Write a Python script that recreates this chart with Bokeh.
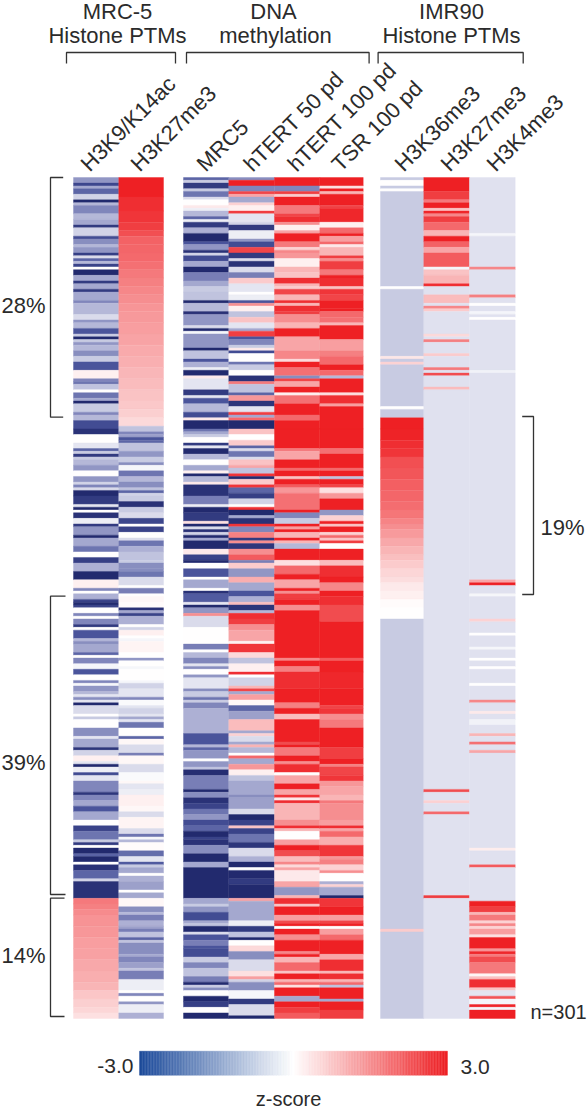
from bokeh.plotting import figure
from bokeh.embed import file_html
from bokeh.resources import INLINE
from bokeh.models import Range1d, ColumnDataSource, LinearColorMapper
from bokeh.core.properties import value
import numpy as np

N_ROWS = 301

# (z-score, number of rows) runs, top to bottom
H3K9K14ac = [(-1.2,2),(-2.3,1),(-1,1),(-1.8,2),(-.5,2),(-3,1),(-.8,1),(-1.4,3),(-.8,2),(-1,2),(-2.6,1),(-.5,3),(-2.2,1),(-1.3,2),(-.8,1),(-1.2,2),(-2.5,1),(-.4,1),(-1.8,1),(-.8,1),(-2.4,1),(0,1),(-3,2),(-1,2),(-2.6,1),(-1,2),(-2.6,1),(-1,3),
 (-1.4,1),(-.8,4),(-.4,2),(-1.2,1),(-.8,2),(-2,2),(-.6,1),(-3,1),(-.6,1),(-1.2,1),(-.8,2),(-1.3,2),(-.6,2),(-2,3),(.2,3),(-1.4,1),(-1.6,1),(-.7,2),(0,1),(-1.6,2),(-1,1),(-3,1),(-.6,3),(-1.4,1),(-.8,2),(-2.2,3),
 (-2.8,2),(0,3),(-.3,2),(-1.8,1),(-.6,1),(-2.6,1),(-.6,1),(-.8,2),(-1.2,2),(0,2),(-1.2,2),(-.5,1),(-1.4,1),(-.4,1),(-3,2),(-2.6,3),(-.3,1),(-3,1),(0,1),(-2.8,2),(-.2,2),(-2.6,1),(-1.2,3),(-3,1),(-1,3),(-1.6,2),(0,2),(-2.5,2),
 (-.9,3),(-3,3),(.2,3),(-1.4,1),(0,1),(-.9,2),(-2.4,1),(-3,1),(-2.4,1),(0,2),(-1.4,1),(0,1),(-1.4,2),(-2.6,1),(0,1),(-2,3),(-.8,1),(-1.3,1),(-1,3),(-1.8,1),(0,1),(-1.4,2),(-.1,2),(-2,2),(0,2),(-1.4,1),(-.1,1),(-1.2,2),
 (-.8,1),(-.3,1),(-1.3,1),(-.3,1),(-3,1),(-.4,3),(0,1),(-.6,1),(0,3),(-1.3,3),(-.3,1),(-1,3),(-2.7,1),(-.5,2),(.2,2),(-.3,1),(-3,1),(-.2,2),(-2.2,1),(-.3,2),(-1.4,4),(-2.7,1),(-1.4,2),(-1,2),(-2,2),(-1,3),
 (0,2),(-2.4,2),(-1.6,3),(-.6,1),(-2.6,1),(0,1),(-3,2),(-1.8,1),(-3,2),(0,1),(-2.8,2),(-1.8,3),(-.5,1),(-2.8,6),
 (1.8,2),(1.7,2),(1.55,2),(1.45,4),(1.4,4),(1.3,4),(1.25,4),(1.15,4),(1.1,4),(1,3),(.75,3),(.65,3),(.55,2),(.42,2)]

H3K27me3_MRC5 = [(3,7),(2.8,5),(2.7,4),(2.6,3),(2.35,2),(2.1,3),(2.05,3),(2,3),(1.9,3),(1.8,3),(1.7,3),(1.6,3),(1.5,3),(1.42,3),(1.36,4),(1.3,4),(1.22,4),(1.14,4),(1.06,4),(.98,4),(.9,4),(.82,4),(.74,3),(.65,3),(.5,3),(-.7,2),(-1.4,1),(-1.1,1),
 (-2,1),(-1.8,1),(-.7,3),(-1.2,2),(-.6,2),(-1.3,1),(-.1,2),(-1.6,2),(-.8,2),(-1.3,2),(-.7,1),(-1.8,1),(-.5,1),(-.6,2),(-2.8,2),(-.6,2),(-.4,2),(-2.3,2),(0,1),(-2.4,2),(0,2),(-.4,1),(-1.6,2),(-.9,2),(-.7,3),(-.6,1),(-1.3,2),
 (-1.3,1),(-1.6,2),(-.4,3),(0,1),(-1.5,2),(0,1),(.1,2),(.05,2),(-2.8,1),(-1,1),(-2.4,1),(-.9,3),(0,1),(-.5,1),(.2,2),(0,1),(-.1,1),(.15,4),(0,2),(-1.2,1),(0,2),(-.1,1),(0,4),(-.1,1),(-.5,2),(-.3,3),
 (-1.4,1),(-.05,2),(-.3,1),(-.5,2),(-.3,1),(-1,1),(-.3,1),(-1.6,2),(0,3),(-1.8,1),(.1,2),(-.4,3),(-1.5,1),(.1,3),(-.4,3),(-.05,3),(.1,1),(-.3,2),(-.2,2),(.2,4),(.1,2),(-.4,2),(.15,4),
 (-.4,2),(-1.6,1),(-.1,1),(-.8,1),(.05,3),(-1.7,2),(-.3,2),(-1.9,1),(-.6,1),(-1,2),(0,1),(-.9,2),(-1.1,3),(0,1),(-1,2),(.1,3),
 (-1.3,2),(-.8,1),(-1.5,2),(-.9,2),(-1.1,1),
 (-1.5,1),(-.7,2),(-1.8,1),(-.7,1),(-1.3,4),(-1,1),(-1.4,2),(-1.1,2),(-.7,1),(-1.5,3),(-.2,4),(0,1),(-1.4,1),(0,2),(-1.2,1),(-.2,3),(-.9,5)]

MRC5 = [(-1.8,1),(-.6,1),(-2.6,2),(-.6,1),(-1.6,2),(-.4,1),(0,2),(.3,1),(-.2,1),(-.8,2),(-1.8,1),(-.2,1),(-2.6,2),(-.9,2),(-3,3),(-2,1),(-1.2,2),(-2.8,1),(-.5,1),(-2.2,2),(-1,2),(-3,2),(-1.5,3),(-1,2),(-.6,2),(-.7,3),
 (-3,1),(-.8,3),(-2.8,1),(-1.2,4),(-.4,1),(-3,1),(-.1,1),(-1.2,5),(-3,1),(-.7,3),(-2,1),(-.9,2),(-.2,1),(-3,2),(.3,1),(-.3,4),(-2.6,2),(-.3,1),(-2,2),(-.8,3),(-2.2,2),(.3,1),(-3,3),
 (-1.6,1),(-1,1),(-.6,1),(0,2),(-2.6,1),(-.3,1),(-3,2),(-.8,2),(0,2),(-1,2),(.2,1),(-3,1),(-.8,2),(.3,1),(-2.8,4),(-1.5,3),(-.2,1),(-3,2),(-2.6,3),(.4,1),(-3,1),(-.4,1),(-2.8,1),(-.5,1),(-3,1),(-1,1),(-3,3),(.3,2),(-2.4,2),
 (-3,1),(0,2),(-2,3),(0,1),(-1,3),(0,1),(-2.8,1),(-1.9,3),(-.3,1),(-3,1),(-1.2,2),(1.5,1),(-.4,4),(0,6),(-1.5,2),(0,1),(-.8,2),(-1.4,2),(-.3,1),(-1.3,1),(0,2),(-1.2,1),(-.3,4),
 (-1.3,1),(-.6,2),(-1.6,1),(-.6,1),(-1.4,2),(-.9,9),(-2,4),(-.8,1),(-1.8,1),(-1.2,3),(0,1),(-1.2,2),(-.7,1),(-2.9,2),(-1.5,5),(-3,1),(-1.3,2),(-2.8,2),(-2.4,2),(-1.6,2),(-1.2,2),
 (-2.2,2),(-1.8,2),(-3,2),(-2.4,1),(-2.8,2),(-1.3,3),(-3,3),(-1,2),(-3,11),(-1,2),(-.6,1),(-1.2,2),(-2.2,3),
 (-1,1),(-.7,1),(-3,2),(-.4,1),(-2,2),(-1.5,2),(-2,1),(-2.2,3),(-.6,2),(-1.4,2),(-.7,3),(-1.5,2),(-3,1),(-.6,1),(-1.3,1),(0,2),(-3,2),(-2.5,2),(0,2),(-3,2)]

hTERT_50 = [(-1.3,1),(3,2),(-1.4,2),(2.5,1),(1.2,1),(-1,2),(.6,1),(.2,2),(2.6,1),(-.3,3),(-.5,1),(-2.6,2),(-.2,3),(-1.2,1),(-2.2,2),(2.5,2),(-2.6,2),(-.4,1),(-2.8,2),(-.4,2),(-1.5,2),(.7,2),(-.3,3),(0,1),(-.2,2),
 (-2,1),(1.5,1),(.2,2),(-.7,2),(.8,2),(-.3,2),(-1,1),(2.6,2),(-2,1),(-1.4,2),(-.6,1),(.3,1),(-2.2,1),(0,3),(-1.6,1),(-.6,2),(0,2),(-2.8,2),(1.8,1),(-.7,3),(-1.8,1),(1.4,2),(-2.7,2),(-.3,2),(2.6,1),(-1,1),(2,1),(-3,3),
 (.8,2),(0,2),(.7,2),(-1.8,1),(-.4,1),(-1.6,2),(-.4,1),(.8,2),(1.2,1),(-.7,2),(2.7,1),(-3,1),(.7,2),(2.7,1),(-1.8,2),(-2.5,2),(-.5,2),(0,1),(2.8,1),(-3,2),(-1,1),(-2.8,2),(2.7,1),(-1.4,2),(1.7,2),(-2.6,1),(1.5,1),(-2.7,2),(1.5,2),(2.2,2),
 (-1.5,1),(.7,2),(-1.2,3),(1.1,2),(-1,3),(-2,2),(-.9,2),(.9,1),(-2.7,2),(-.8,1),(2.8,2),(2.6,2),(1.5,2),(1.2,4),(.2,1),(2.7,3),(.5,2),(-.7,2),(.2,3),(2.8,1),(0,1),(-.5,3),(1,1),
 (2.5,1),(-1,1),(1.3,2),(.1,2),(-1.8,2),(-1.1,3),(.9,4),(-1,1),(.6,1),(-.4,2),(-1,1),(1,1),(-.8,2),(0,1),(2,1),(-1,2),(1.4,2),(.2,2),(-.7,2),(-1,5),(-1.3,1),(-1.1,4),(-.4,2),(-3,2),
 (-2.4,2),(.8,1),(-2.4,2),(-1.6,3),(-2.7,2),(-.4,3),(-.9,2),(-3,2),(0,1),(-3,3),(-2.6,2),(-3,5),(1.2,1),(-1,7),
 (-.2,2),(-2.6,2),(-.7,2),(-3,1),(0,2),(.5,2),(-1.3,3),(-.4,4),(.4,2),(1.3,1),(-.5,1),(-1.3,3),(-.1,3),(-2.6,2),(-.4,4),(-3,1)]

hTERT_100 = [(3,3),(-1.4,2),(2.6,1),(.7,1),(3,3),(1.8,3),(2.5,1),(2.8,2),(1.5,1),(.2,2),(1.2,1),(3,3),(1.8,2),(.6,1),(1.6,1),(1.4,2),(.2,3),(1,2),(.8,2),(2.8,2),(1,1),(.7,1),(2.5,2),(1,2),
 (2.8,1),(1,1),(2.8,2),(2.6,1),(1.5,3),(1,2),(3,3),(1.2,5),(1.6,3),(.5,1),(3,2),(1.9,3),(-1.3,1),(2.5,1),(1.2,2),(3,2),(.2,1),(1.9,3),(3,4),(2,2),(3,3),
 (3,7),(1.8,1),(1.2,3),(3,3),(2,1),(3,2),(.8,1),(3,2),(2.2,1),(1.4,2),(1.9,6),(3,1),(-1.4,2),(-.6,2),(3,1),(1.3,1),(3,1),(1,2),(3,1),(1,1),(-.8,2),(3,4),
 (.4,2),(2,3),(3,2),(1.2,3),(3,1),(1.5,1),(2.6,2),(3,2),(1.5,2),(3,17),(1.6,1),(3,2),(1.7,2),(2.8,6),
 (3,5),(1.7,2),(3,2),(.9,2),(3,8),(2.4,1),(3,1),(1.8,3),(3,2),(1.5,1),(2.8,3),(0,1),(1.2,3),(3,2),(1.2,2),(2.7,1),(.3,1),(2.8,1),(1,6),
 (1.5,2),(2.8,1),(1,1),(0,3),(1.3,2),(3,2),(2.4,2),(.9,2),(1.6,1),(.5,1),(1.2,1),(.3,4),(1.2,2),(-1.2,3),(1,1),(2.8,2),(.8,1),(3,3),(1.3,2),
 (2.4,1),(3,1),(0,1),(3,2),(1.5,2),(3,4),(1.6,1),(3,1),(1,2),(2,3),(.8,1),(3,2),(1,1),(2,1),(.4,1),(3,3),(-1,2),(3,2),(2.6,2),(2.2,2)]

TSR_100 = [(3,3),(.4,1),(3,1),(1,1),(3,4),(2.5,1),(2.9,5),(.2,2),(2,2),(3,1),(1.3,2),(2,1),(.3,1),(1,3),(2.6,1),(1.5,1),(2.6,3),(1.8,2),(3,1),(2.8,3),(.8,1),(2.7,2),(2.5,2),
 (3,3),(3,1),(2,2),(1.9,2),(1,1),(3,5),(1.3,4),(1.7,2),(2,3),(3,2),(2,2),(-.8,1),(3,5),(.4,1),(2.8,3),(1.3,1),(3,8),
 (3,7),(1.9,2),(3,5),(2,1),(3,2),(-.7,1),(3,2),(2.5,1),(.4,2),(1.4,2),(3,4),(-1.2,2),(.6,2),(3,1),(.8,1),(3,2),(.6,1),(2,1),(.8,1),(2.6,1),(0,2),(3,4),
 (.9,2),(2.8,4),(3,2),(1.6,3),(3,2),(2.8,3),(2.4,6),(3,13),(2.2,1),(3,4),(2.9,6),
 (3,6),(2.5,1),(2.7,2),(1.5,2),(1.8,3),(3,7),(2.6,4),(3,2),(1.7,1),(2.5,3),(2.7,2),(1.4,2),(1.2,3),(1,2),(1.8,1),(1.5,6),
 (1.3,2),(2.8,1),(1.2,1),(2,2),(1.1,3),(2.7,4),(1.4,1),(1.7,2),(.6,2),(1.5,1),(0,3),(-.9,1),(.6,1),(-1,3),(-3,1),(2.7,3),(3,3),(1.3,2),
 (2.5,1),(3,1),(0,1),(1.3,2),(2,2),(3,5),(1.2,2),(2.8,4),(1,1),(2.8,2),(1,1),(2,1),(-.7,1),(3,4),(-1,1),(3,3),(2.6,3)]

H3K36me3 = [(-.6,1),(0,2),(-.6,1),(0,1),(-.6,34),(0,1),(-.6,24),(.35,1),(-.6,1),(.6,1),(-.6,15),(0,1),(-.6,3),
 (3,4),(2.95,4),(2.8,3),(2.7,3),(2.35,4),(2.25,4),(2.15,4),(2.05,4),(1.95,3),(1.85,3),(1.65,2),(1.5,2),(1.35,3),(1.15,3),(1,3),(.85,2),(.7,3),(.55,3),(.45,2),(.3,3),(.2,3),(.05,3),(0,4),
 (-.6,111),(.7,1),(-.6,31)]

H3K27me3_IMR90 = [(3,5),(2.6,3),(1.8,1),(3,2),(.8,1),(2.9,1),(1.6,1),(2.6,2),(2,3),(1,2),(3,2),(2.1,2),(1.2,2),(2.2,5),(-.1,1),(.8,2),(1,3),(2.8,1),(-.35,3),(.9,3),(-.35,1),(1.6,1),(.7,1),(-.35,8),(.5,1),(-.35,1),(1.7,1),(-.35,4),(.7,1),(-.35,4),(1.8,1),(-.35,1),(2.4,1),(-.35,4),(.9,1),
 (-.35,143),(2.4,1),(-.35,3),(.6,1),(-.35,3),(2,1),(-.35,29),(2.6,1),(-.35,43)]

H3K4me3 = [(-.35,20),(-.1,1),(-.35,11),(1.6,1),(-.35,9),(1.7,1),(-.35,2),(0,1),(-.35,2),(-.1,1),(-.35,1),(0,1),(-.35,18),(-.15,1),
 (-.35,74),(1.2,1),(3,1),(-.35,3),(-.1,1),(-.35,8),(.6,1),(-.35,4),(0,1),(-.35,4),(-.1,1),(-.35,3),(0,1),(-.35,2),(0,1),(-.35,5),(0,1),(-.35,5),(1.6,1),(-.35,3),(.3,1),(-.35,2),(-.15,2),(-.35,3),(1,1),(-.35,2),(1.9,1),(-.35,2),(1.2,1),(-.35,34),(.25,1),(-.35,5),(2.2,1),(-.35,12),
 (3,2),(2.6,2),(1,1),(1.8,2),(.6,1),(1.6,1),(.6,1),(1.3,2),(.4,1),(3,4),(1.4,1),(2.9,1),(1.8,1),(2.4,2),(1.8,4),(.1,1),(.8,1),(2.8,3),(.8,1),(-.3,2),(2.3,1),(-.1,2),(2.9,1),(-.1,1),(3,3)]

COLUMNS = [H3K9K14ac, H3K27me3_MRC5, MRC5, hTERT_50, hTERT_100, TSR_100, H3K36me3, H3K27me3_IMR90, H3K4me3]
COLUMN_LABELS = ["H3K9/K14ac", "H3K27me3", "MRC5", "hTERT 50 pd", "hTERT 100 pd", "TSR 100 pd", "H3K36me3", "H3K27me3", "H3K4me3"]

# layout (page pixels)
COL_EDGES = [(73, 118.3), (118.3, 163), (183, 228.3), (228.3, 274), (274, 319.3), (319.3, 362.7), (380, 423.3), (423.3, 469), (469, 514.7)]
LABEL_X = [84, 134, 200, 247, 291, 335, 398, 444, 490]
HEAT_TOP, ROW_PX = 177, 2.794


def ramp(anchors, n=256):
    pos = np.array([a[0] for a in anchors], dtype=float)
    rgb = np.array([[int(a[1][i:i + 2], 16) for i in (1, 3, 5)] for a in anchors], dtype=float)
    t = np.linspace(pos[0], pos[-1], n)
    return ["#%02x%02x%02x" % tuple(int(round(np.interp(v, pos, rgb[:, k]))) for k in range(3)) for v in t]


heat_mapper = LinearColorMapper(palette=ramp([(-3, "#222a6e"), (-2, "#4a549c"), (-1, "#a4a8cf"), (0, "#ffffff"), (3, "#ee2024")]), low=-3, high=3)
bar_mapper = LinearColorMapper(palette=ramp([(-3, "#1c4a9a"), (0, "#ffffff"), (3, "#ee2024")]), low=-3, high=3)

W, H = 588, 1107
p = figure(width=W, height=H, output_backend="svg", toolbar_location=None,
           x_range=Range1d(0, W), y_range=Range1d(H, 0), min_border=0,
           x_axis_location=None, y_axis_location=None, outline_line_color=None,
           background_fill_color="white", border_fill_color="white")
p.grid.visible = False
p.extra_y_ranges["rows"] = Range1d((H - HEAT_TOP) / ROW_PX, -HEAT_TOP / ROW_PX)
Z_PX = (447 - 139) / 6
p.extra_x_ranges["z"] = Range1d(-3 - 139 / Z_PX, -3 + (W - 139) / Z_PX)

# heat map
L, R, T, B, Z = [], [], [], [], []
for col, (x0, x1) in zip(COLUMNS, COL_EDGES):
    row = 0
    for z, n in col:
        if row >= N_ROWS:
            break
        end = min(row + n, N_ROWS)
        L.append(x0); R.append(x1); T.append(row); B.append(end); Z.append(z)
        row = end
    if row < N_ROWS:
        L.append(x0); R.append(x1); T.append(row); B.append(N_ROWS); Z.append(col[-1][0])
src = ColumnDataSource(dict(left=L, right=R, top=T, bottom=B, z=Z))
cmap = {"field": "z", "transform": heat_mapper}
p.quad(left="left", right="right", top="top", bottom="bottom", source=src, y_range_name="rows",
       fill_color=cmap, line_color=cmap, line_width=0.4)

FONT = value("Liberation Sans")
INK = "#2b2b2b"


def label(x, y, s, size="22px", align="center", baseline="alphabetic", angle=0.0):
    p.text(x=[x], y=[y], text=[s], text_font=FONT, text_font_size=size, text_color=INK,
           text_align=align, text_baseline=baseline, angle=angle)


# column labels
for x, s in zip(LABEL_X, COLUMN_LABELS):
    label(x, 167, s, align="left", angle=np.pi / 4)

# group headers
for x, s in [(117, "MRC-5"), (117, "Histone PTMs"), (273, "DNA"), (275, "methylation"), (451, "IMR90"), (451, "Histone PTMs")]:
    y = 11 if s in ("MRC-5", "DNA", "IMR90") else 35
    label(x, y, s)


def bracket(xs, ys):
    p.line(x=xs, y=ys, line_color="#333333", line_width=1.3)


# top brackets
for a, b in [(66, 175), (186, 368.6), (377.6, 522.7)]:
    bracket([a, a, b, b], [63, 52, 52, 63])
# left brackets
for top, bot, xr in [(177, 416.7, 62.7), (595.7, 894, 65)]:
    bracket([xr, 50, 50, xr], [top, top, bot, bot])
bracket([64, 50, 50, 64], [897.7, 897.7, 1016, 1016])
# right bracket
bracket([521.7, 533, 533, 521.7], [416, 416, 594, 594])

# percentages and annotations
label(1, 305, "28%", align="left")
label(1, 762, "39%", align="left")
label(1, 955, "14%", align="left")
label(540, 527, "19%", align="left")
label(530, 1011, "n=301", size="20px", align="left")

# colour bar
edges = np.linspace(-3, 3, 201)
bar = ColumnDataSource(dict(left=edges[:-1], right=edges[1:], z=(edges[:-1] + edges[1:]) / 2))
bcmap = {"field": "z", "transform": bar_mapper}
p.quad(left="left", right="right", top=1050.7, bottom=1074.7, source=bar, x_range_name="z",
       fill_color=bcmap, line_color=bcmap, line_width=0.4)
label(133, 1065, "-3.0", size="21px", align="right")
label(460, 1066, "3.0", size="21px", align="left")
label(288, 1098, "z-score", size="20px")

open("out.html", "w").write(file_html(p, INLINE))
